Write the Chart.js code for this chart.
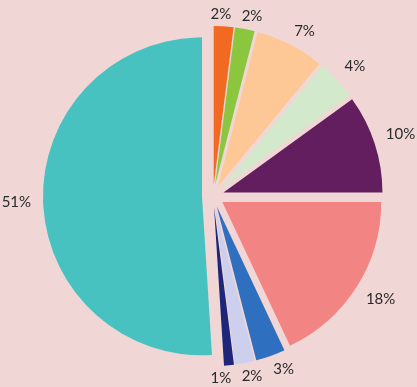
<!DOCTYPE html>
<html>
<head>
<meta charset="utf-8">
<script src="https://cdn.jsdelivr.net/npm/chart.js@4/dist/chart.umd.min.js"></script>
<style>
  html, body { margin: 0; padding: 0; background: #f1d6d6; }
  canvas { display: block; }
</style>
</head>
<body>
<canvas id="c" width="417" height="387"></canvas>
<script>
// Data (clockwise from 12 o'clock)
const categories = ["A", "B", "C", "D", "E", "F", "G", "H", "I", "J"];
const values = [2, 2, 7, 4, 10, 18, 3, 2, 1, 51];
const sliceColors = ["#f26a22", "#8cc63f", "#fdc895", "#d3e9cb", "#621e5e",
                     "#f28583", "#2f6fc0", "#cdd0ec", "#1d2678", "#47c2c1"];

const EXPLODE = 11;   // uniform explosion distance (px)
const LABEL_GAP = 10; // minimum gap between label boxes

// Uniform explosion: draw each arc element shifted along its mid-angle
const explodePlugin = {
  id: "explode",
  beforeDatasetDraw(chart, args) {
    const ctx = chart.ctx;
    args.meta.data.forEach(arc => {
      const p = arc.getProps(["startAngle", "endAngle"], true);
      const mid = (p.startAngle + p.endAngle) / 2;
      ctx.save();
      ctx.translate(Math.cos(mid) * EXPLODE, Math.sin(mid) * EXPLODE);
      arc.draw(ctx);
      ctx.restore();
    });
    return false;
  }
};

const labelPlugin = {
  id: "outerLabels",
  afterDatasetsDraw(chart) {
    const ctx = chart.ctx;
    const meta = chart.getDatasetMeta(0);
    const ds = chart.data.datasets[0];
    const total = ds.data.reduce((a, b) => a + b, 0);
    ctx.save();
    ctx.font = "15px Lato";
    ctx.fillStyle = "#2a2a2a";
    ctx.textAlign = "center";
    ctx.textBaseline = "middle";
    const h = 12;
    const clamp = v => Math.max(-1, Math.min(1, v));
    const items = meta.data.map((arc, i) => {
      const p = arc.getProps(["x", "y", "startAngle", "endAngle"], true);
      const text = Math.round(ds.data[i] / total * 100) + "%";
      return { p, text, w: ctx.measureText(text).width, v: ds.data[i],
               ang: (p.startAngle + p.endAngle) / 2 };
    });
    const box = o => {
      const s = Math.cos(o.ang), c = Math.sin(o.ang);
      const R = 176 + 6 * Math.abs(s);
      const ax = o.p.x + s * R, ay = o.p.y + c * R;
      const cx = ax + clamp(3 * s) * o.w / 2;
      const cy = ay + clamp(3 * c) * h / 2;
      return { cx, cy, x0: cx - o.w / 2, x1: cx + o.w / 2, y0: cy - h / 2, y1: cy + h / 2 };
    };
    const overlap = (a, b) =>
      a.x0 < b.x1 + LABEL_GAP && b.x0 < a.x1 + LABEL_GAP &&
      a.y0 < b.y1 + LABEL_GAP && b.y0 < a.y1 + LABEL_GAP;
    // labels move toward the free space around the largest slice
    let big = 0;
    items.forEach((o, i) => { if (o.v > items[big].v) big = i; });
    const bigAng = items[big].ang;
    const circDist = a => {
      let d = Math.abs(a - bigAng) % (2 * Math.PI);
      return d > Math.PI ? 2 * Math.PI - d : d;
    };
    const step = 0.2 * Math.PI / 180;
    for (let it = 0; it < 600; it++) {
      let moved = false;
      for (let k = 0; k < items.length - 1; k++) {
        const a = items[k], b = items[k + 1];
        if (overlap(box(a), box(b))) {
          if (circDist(a.ang) < circDist(b.ang)) a.ang -= step; else b.ang += step;
          moved = true;
        }
      }
      if (!moved) break;
    }
    items.forEach(o => {
      const b = box(o);
      ctx.fillText(o.text, b.cx, b.cy);
    });
    ctx.restore();
  }
};

new Chart(document.getElementById("c"), {
  type: "pie",
  data: {
    labels: categories,
    datasets: [{
      data: values,
      backgroundColor: sliceColors,
      borderWidth: 0
    }]
  },
  options: {
    responsive: false,
    animation: false,
    devicePixelRatio: 1,
    layout: { padding: { top: 37, bottom: 32, left: 45, right: 36 } },
    plugins: { legend: { display: false }, tooltip: { enabled: false } }
  },
  plugins: [explodePlugin, labelPlugin]
});
</script>
</body>
</html>
